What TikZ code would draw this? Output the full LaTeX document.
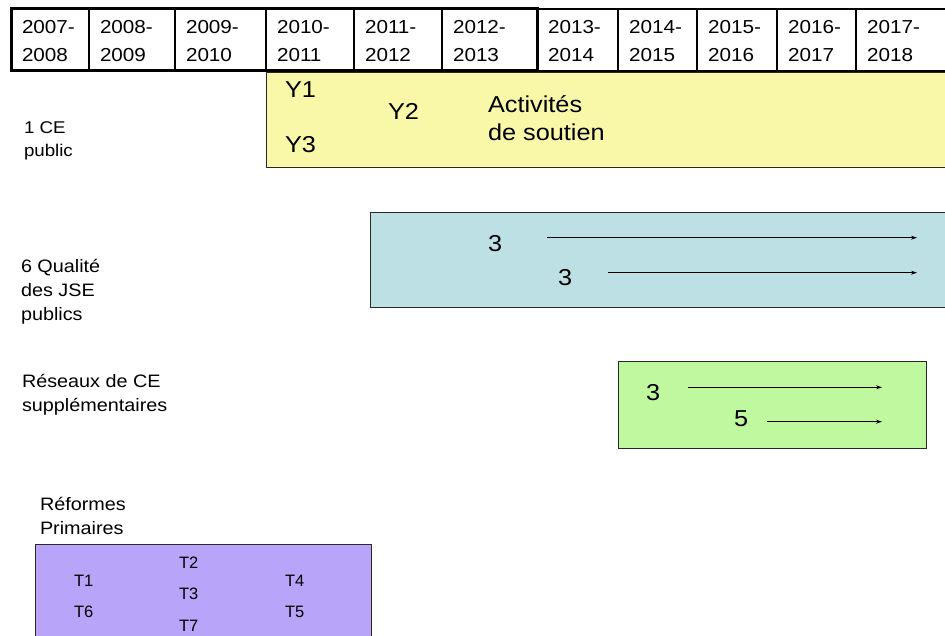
\documentclass[tikz,border=0pt]{standalone}
\usepackage{fontspec}
\setmainfont[FakeStretch=1.1]{Liberation Sans}
\newfontfamily\plainsans{Liberation Sans}
\usetikzlibrary{arrows.meta}
\definecolor{yellowF}{RGB}{248,248,168}
\definecolor{blueF}{RGB}{188,224,228}
\definecolor{greenF}{RGB}{192,248,160}
\definecolor{purpleF}{RGB}{184,164,248}
\definecolor{edge}{RGB}{40,40,40}
\begin{document}
\begin{tikzpicture}[x=1pt,y=-1pt,
  txt/.style={anchor=base west,inner sep=0pt,outer sep=0pt},
  yr/.style={txt,font=\fontsize{18.8}{20}\selectfont},
  lab/.style={txt,font=\fontsize{18}{20}\selectfont},
  big/.style={txt,font=\fontsize{23}{26}\selectfont},
  tsm/.style={txt,font=\plainsans\fontsize{16.5}{18}\selectfont},
  band/.style={draw=edge,line width=1.2pt,anchor=north west,inner sep=0pt},
  thin/.style={draw=black,line width=1.2pt},
  thick/.style={draw=black,line width=3pt},
  arr/.style={draw=black,line width=0.9pt,-{Stealth[length=6pt,width=4pt]}}]
\useasboundingbox (0,0) rectangle (945,636);
% ---------------- bands ----------------
\node[band,fill=yellowF,minimum width=690pt,minimum height=95pt] (ce) at (266,72) {};
\node[band,fill=blueF,minimum width=590pt,minimum height=95pt] (jse) at (370,212) {};
\node[band,fill=greenF,minimum width=308pt,minimum height=87pt] (res) at (618,361) {};
\node[band,fill=purpleF,minimum width=336pt,minimum height=100pt] (ref) at (35,544) {};
% ---------------- timeline table ----------------
\draw[thin] (537,9) -- (950,9);
\draw[thin] (537,71) -- (950,71);
\foreach \x in {89,175,354,442,618,697,777,856} \draw[thin] (\x,9) -- (\x,71);
\draw[thin] (266,9) -- (266,71);
\draw[thick] (11,9) rectangle (537,71);
\foreach \x/\a/\b [count=\i] in {11/2007/2008,89/2008/2009,175/2009/2010,266/2010/2011,354/2011/2012,442/2012/2013,537/2013/2014,618/2014/2015,697/2015/2016,777/2016/2017,856/2017/2018}{
  \node[yr] (yA\i) at (\x+11,33.5) {\a-};
  \node[yr] (yB\i) at (\x+11,61.5) {\b};
}
% ---------------- row labels ----------------
\node[lab,font=\fontsize{17}{20}\selectfont] (l1a) at (24,134) {1 CE};
\node[lab,font=\fontsize{17}{20}\selectfont] (l1b) at (24,157) {public};
\node[lab] (l2a) at (21,273) {6 Qualité};
\node[lab] (l2b) at (21,297) {des JSE};
\node[lab] (l2c) at (21,320) {publics};
\node[lab] (l3a) at (22,387) {Réseaux de CE};
\node[lab] (l3b) at (22,411) {supplémentaires};
\node[lab] (l4a) at (40,510) {Réformes};
\node[lab] (l4b) at (40,534) {Primaires};
% ---------------- yellow band content ----------------
\node[big] (y1) at (285,98) {Y1};
\node[big] (y2) at (388,120) {Y2};
\node[big] (y3) at (285,153) {Y3};
\node[big] (act1) at (488,113) {Activités};
\node[big] (act2) at (488,141) {de soutien};
% ---------------- blue band content ----------------
\node[big] (b1) at (488,252) {3};
\node[big] (b2) at (558,286) {3};
\coordinate (b1s) at (547,237.7); \coordinate (b1e) at (917,237.7);
\coordinate (b2s) at (608,272.7); \coordinate (b2e) at (917,272.7);
\draw[arr] (b1s) -- (b1e);
\draw[arr] (b2s) -- (b2e);
% ---------------- green band content ----------------
\node[big] (g1) at (646,400) {3};
\node[big] (g2) at (734,426) {5};
\coordinate (g1s) at (688,387.3); \coordinate (g1e) at (882,387.3);
\coordinate (g2s) at (767,421.7); \coordinate (g2e) at (882,421.7);
\draw[arr] (g1s) -- (g1e);
\draw[arr] (g2s) -- (g2e);
% ---------------- purple band content ----------------
\node[tsm] (t1) at (74,586) {T1};
\node[tsm] (t2) at (179,568) {T2};
\node[tsm] (t3) at (179,599) {T3};
\node[tsm] (t4) at (285,586) {T4};
\node[tsm] (t6) at (74,617) {T6};
\node[tsm] (t5) at (285,617) {T5};
\node[tsm] (t7) at (179,631) {T7};
\end{tikzpicture}
\end{document}
